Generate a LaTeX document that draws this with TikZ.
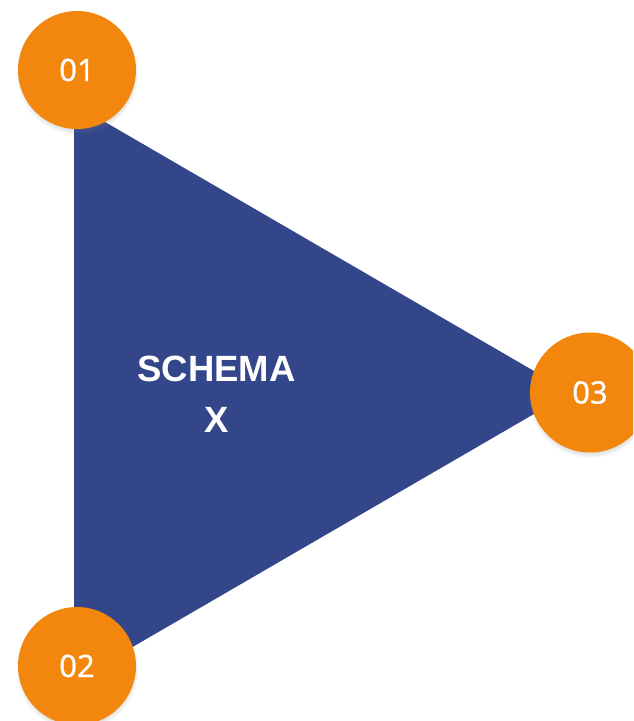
\documentclass[tikz,border=0pt]{standalone}
\usepackage{fontspec}
\setmainfont{Liberation Sans}
\newfontfamily\digitfont[FakeBold=0.6]{Noto Sans}
\usetikzlibrary{shadows}
\definecolor{tblue}{RGB}{50,70,137}
\definecolor{torange}{RGB}{243,135,14}
\tikzset{
  numcircle/.style={circle, fill=torange, minimum size=118pt, inner sep=0pt,
    text=white, font=\digitfont\fontsize{31}{36}\selectfont,
    circular drop shadow={shadow xshift=0pt, shadow yshift=-3pt, opacity=0.4, shadow scale=1.04}},
  titletext/.style={text=white, align=center, font=\bfseries\fontsize{36.5}{51}\selectfont}
}
\begin{document}
\begin{tikzpicture}[x=1pt,y=1pt]
\useasboundingbox (0,0) rectangle (633,721);
\clip (0,0) rectangle (633,721);
\coordinate (ta) at (74,617);
\coordinate (tb) at (74,40);
\coordinate (tc) at (571,328.5);
\fill[tblue] (ta) -- (tc) -- (tb) -- cycle;
\node[titletext] (title) at (216.5,327) {SCHEMA\\X};
\node[numcircle] (c1) at (77,651) {01};
\node[numcircle] (c2) at (77,55) {02};
\node[numcircle, minimum size=120pt] (c3) at (590,328.5) {03};
\end{tikzpicture}
\end{document}
